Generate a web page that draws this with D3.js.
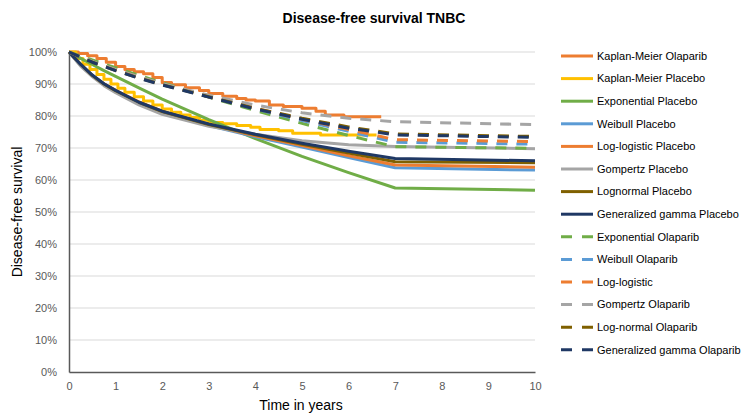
<!DOCTYPE html>
<html lang="en">
<head>
<meta charset="UTF-8">
<title>Disease-free survival TNBC</title>
<script src="https://cdn.jsdelivr.net/npm/d3@7"></script>
<style>
body { margin: 0; background: #fff; }
svg { font-family: 'Liberation Sans', Arial, sans-serif; }
</style>
</head>
<body>
<svg id="chart" width="744" height="416"></svg>
<script>
// Kaplan-Meier step data (time in years, survival %)
const kmOlaTime = [0, 0.2, 0.4, 0.6, 0.8, 1.0, 1.2, 1.4, 1.6, 1.8, 2.0, 2.2, 2.5, 2.8, 3.0, 3.3, 3.6, 3.8, 4.0, 4.3, 4.6, 5.0, 5.3, 5.5, 5.9, 6.7];
const kmOlaSurv = [100, 99.5, 98.8, 98, 96.8, 95.5, 94.5, 93.8, 93.2, 92, 90.5, 89.8, 88.8, 88, 87, 86.2, 85.5, 85, 84.7, 83.4, 83, 82.4, 81.5, 80.3, 79.8, 79.8];
const kmPlaTime = [0, 0.15, 0.3, 0.45, 0.6, 0.75, 0.9, 1.05, 1.2, 1.4, 1.6, 1.8, 2.0, 2.2, 2.4, 2.6, 2.8, 3.0, 3.3, 3.6, 3.9, 4.1, 4.5, 4.8, 5.4, 6.6];
const kmPlaSurv = [100, 98, 96.2, 94.5, 93, 91.5, 90, 88.7, 87.4, 86, 84.7, 83.4, 82.2, 81.2, 80.3, 79.5, 78.7, 78, 77.6, 77, 76.5, 75.8, 75.4, 74.6, 74.1, 74.1];

// parametric fits, evaluated at these times
const fitTime = [0, 0.25, 0.5, 0.75, 1, 1.5, 2, 3, 4, 5, 6, 7, 10];
const expPlacebo      = [100, 98.0, 96.1, 94.2, 92.4, 88.8, 85.3, 78.9, 72.9, 67.4, 62.3, 57.5, 56.8];
const weibullPlacebo  = [100, 95.8, 92.5, 89.9, 87.8, 84.2, 81.3, 77.0, 73.5, 70.3, 67.0, 63.8, 63.1];
const loglogPlacebo   = [100, 95.9, 92.6, 90.1, 88.0, 84.4, 81.5, 77.2, 73.8, 70.8, 67.6, 64.7, 64.0];
const gompertzPlacebo = [100, 95.6, 92.3, 89.5, 87.3, 83.5, 80.5, 76.8, 74.3, 72.3, 71.0, 70.5, 69.8];
const lognormPlacebo  = [100, 96.2, 92.7, 90.0, 87.9, 84.3, 81.4, 77.3, 74.1, 71.2, 68.4, 65.7, 65.4];
const gengamPlacebo   = [100, 96.1, 92.8, 90.1, 88.0, 84.3, 81.5, 77.5, 74.3, 71.5, 69.0, 66.7, 66.0];
const expOlaparib      = [100, 98.7, 97.5, 96.3, 95.1, 92.7, 90.4, 85.9, 81.7, 77.7, 73.9, 70.4, 69.9];
const weibullOlaparib  = [100, 98.4, 97.0, 95.7, 94.5, 92.2, 90.0, 86.0, 82.2, 78.6, 75.2, 71.8, 71.2];
const loglogOlaparib   = [100, 98.4, 97.0, 95.7, 94.5, 92.2, 90.0, 86.0, 82.4, 79.0, 75.8, 72.6, 72.0];
const gompertzOlaparib = [100, 98.4, 97.0, 95.7, 94.5, 92.2, 90.1, 86.5, 83.4, 81.0, 79.3, 78.2, 77.3];
const lognormOlaparib  = [100, 98.4, 96.8, 95.5, 94.2, 91.9, 89.8, 86.0, 82.4, 79.3, 76.6, 74.4, 73.6];
const gengamOlaparib   = [100, 98.4, 96.8, 95.5, 94.2, 91.8, 89.7, 85.9, 82.2, 79.0, 76.2, 74.1, 73.3];

const xTicks = [0, 1, 2, 3, 4, 5, 6, 7, 8, 9, 10];
const yTicks = [0, 10, 20, 30, 40, 50, 60, 70, 80, 90, 100];

const series = [
  { name: "Kaplan-Meier Olaparib", t: kmOlaTime, s: kmOlaSurv, color: "#ED7D31", step: true },
  { name: "Kaplan-Meier Placebo", t: kmPlaTime, s: kmPlaSurv, color: "#FFC000", step: true },
  { name: "Exponential Placebo", t: fitTime, s: expPlacebo, color: "#70AD47" },
  { name: "Weibull Placebo", t: fitTime, s: weibullPlacebo, color: "#5B9BD5" },
  { name: "Log-logistic Placebo", t: fitTime, s: loglogPlacebo, color: "#ED7D31" },
  { name: "Gompertz Placebo", t: fitTime, s: gompertzPlacebo, color: "#A5A5A5" },
  { name: "Lognormal Placebo", t: fitTime, s: lognormPlacebo, color: "#7F6000" },
  { name: "Generalized gamma Placebo", t: fitTime, s: gengamPlacebo, color: "#1F3864" },
  { name: "Exponential Olaparib", t: fitTime, s: expOlaparib, color: "#70AD47", dash: true },
  { name: "Weibull Olaparib", t: fitTime, s: weibullOlaparib, color: "#5B9BD5", dash: true },
  { name: "Log-logistic", t: fitTime, s: loglogOlaparib, color: "#ED7D31", dash: true },
  { name: "Gompertz Olaparib", t: fitTime, s: gompertzOlaparib, color: "#A5A5A5", dash: true },
  { name: "Log-normal Olaparib", t: fitTime, s: lognormOlaparib, color: "#7F6000", dash: true },
  { name: "Generalized gamma Olaparib", t: fitTime, s: gengamOlaparib, color: "#1F3864", dash: true }
];

const svg = d3.select("#chart");
svg.append("rect").attr("width", 744).attr("height", 416).attr("fill", "#fff");

const x = d3.scaleLinear().domain([0, 10]).range([69, 535]);
const y = d3.scaleLinear().domain([0, 100]).range([372, 52]);

// gridlines
svg.append("g").selectAll("line").data(yTicks.filter(d => d > 0)).join("line")
  .attr("x1", x(0)).attr("x2", x(10))
  .attr("y1", d => y(d)).attr("y2", d => y(d))
  .attr("stroke", "#D9D9D9").attr("stroke-width", 1);

// axes
const yAxis = svg.append("g").attr("transform", `translate(${x(0)},0)`)
  .call(d3.axisLeft(y).tickValues(yTicks).tickFormat(d => d + "%").tickSize(0).tickPadding(12));
const xAxis = svg.append("g").attr("transform", `translate(0,${y(0)})`)
  .call(d3.axisBottom(x).tickValues(xTicks).tickSize(0).tickPadding(10));
[yAxis, xAxis].forEach(a => {
  a.select(".domain").attr("stroke", "#595959").attr("stroke-width", 1.5);
  a.selectAll("text").attr("fill", "#595959").style("font-size", "11px");
});

// lines
const line = d3.line().x(d => x(d[0])).y(d => y(d[1]));
const stepLine = d3.line().x(d => x(d[0])).y(d => y(d[1])).curve(d3.curveStepAfter);

svg.append("g").selectAll("path").data(series).join("path")
  .attr("d", d => (d.step ? stepLine : line)(d.t.map((t, i) => [t, d.s[i]])))
  .attr("fill", "none")
  .attr("stroke", d => d.color)
  .attr("stroke-width", 3)
  .attr("stroke-dasharray", d => d.dash ? "11,9" : null)
  .attr("stroke-linejoin", "round");

// legend
const legend = svg.append("g").selectAll("g").data(series).join("g")
  .attr("transform", (d, i) => `translate(561,${56 + i * 22.6})`);
legend.append("line").attr("x1", 0).attr("x2", 32)
  .attr("stroke", d => d.color).attr("stroke-width", 3)
  .attr("stroke-dasharray", d => d.dash ? "11,10" : null);
legend.append("text").attr("x", 36).attr("dy", "0.35em")
  .style("font-size", "11px").attr("fill", "#000").text(d => d.name);

// titles
svg.append("text").attr("x", 374).attr("y", 23).attr("text-anchor", "middle")
  .style("font-size", "14px").style("font-weight", "bold").text("Disease-free survival TNBC");
svg.append("text").attr("x", 301).attr("y", 410).attr("text-anchor", "middle")
  .style("font-size", "14px").text("Time in years");
svg.append("text").attr("transform", "translate(22,212) rotate(-90)").attr("text-anchor", "middle")
  .style("font-size", "14px").text("Disease-free survival");
</script>
</body>
</html>
